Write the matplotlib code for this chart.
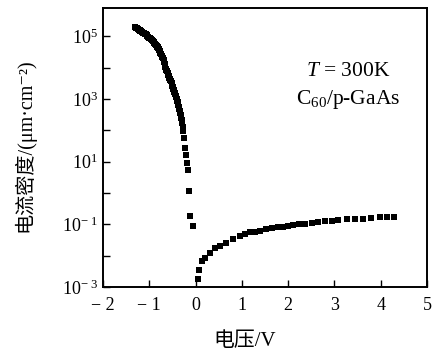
import matplotlib
matplotlib.use('Agg')
import matplotlib.pyplot as plt
import numpy as np

# reverse bias branch (V, log10 of current density)
v_rev = [-1.31, -1.29, -1.27, -1.25, -1.23, -1.21, -1.20, -1.18, -1.16, -1.14,
         -1.12, -1.10, -1.09, -1.07, -1.06, -1.04, -1.02, -1.00, -0.99, -0.97,
         -0.95, -0.93, -0.92, -0.90, -0.89, -0.87, -0.86, -0.84, -0.83, -0.82,
         -0.81, -0.79, -0.78, -0.77, -0.76, -0.74, -0.73, -0.72, -0.71, -0.69,
         -0.68, -0.67, -0.66, -0.65, -0.64, -0.63, -0.62, -0.60, -0.59, -0.58,
         -0.57, -0.56, -0.55, -0.53, -0.52, -0.51, -0.50, -0.49, -0.48, -0.47,
         -0.46, -0.45, -0.44, -0.43, -0.42, -0.41, -0.40, -0.39, -0.38, -0.37,
         -0.36, -0.35, -0.34, -0.33, -0.32, -0.31, -0.30, -0.29, -0.28, -0.27,
         -0.25, -0.23, -0.21, -0.19, -0.17, -0.14, -0.12, -0.06]
e_rev = [5.29, 5.27, 5.25, 5.23, 5.21, 5.19, 5.18, 5.16, 5.14, 5.12,
         5.10, 5.08, 5.07, 5.06, 5.05, 5.02, 4.99, 4.96, 4.94, 4.92,
         4.89, 4.86, 4.84, 4.81, 4.78, 4.75, 4.72, 4.69, 4.67, 4.65,
         4.63, 4.59, 4.55, 4.52, 4.48, 4.42, 4.38, 4.34, 4.31, 4.24,
         4.18, 4.12, 4.05, 4.01, 3.97, 3.93, 3.88, 3.83, 3.78, 3.73,
         3.68, 3.64, 3.60, 3.56, 3.52, 3.47, 3.42, 3.37, 3.32, 3.28,
         3.23, 3.19, 3.15, 3.10, 3.05, 3.00, 2.94, 2.90, 2.85, 2.80,
         2.74, 2.68, 2.62, 2.56, 2.50, 2.40, 2.32, 2.22, 2.10, 1.98,
         1.75, 1.45, 1.22, 0.96, 0.73, 0.06, -0.74, -1.06]

# forward bias branch
v_fwd = [0.045, 0.08, 0.13, 0.20, 0.31, 0.42, 0.53, 0.66, 0.81, 0.96,
         1.07, 1.17, 1.28, 1.39, 1.53, 1.66, 1.79, 1.89, 2.00, 2.11,
         2.24, 2.36, 2.51, 2.65, 2.80, 2.94, 3.08, 3.26, 3.44, 3.62,
         3.80, 3.98, 4.14, 4.28]
e_fwd = [-2.76, -2.46, -2.17, -2.06, -1.91, -1.77, -1.70, -1.59, -1.48, -1.38,
         -1.32, -1.26, -1.24, -1.21, -1.16, -1.13, -1.10, -1.08, -1.05, -1.03,
         -1.00, -0.98, -0.96, -0.93, -0.91, -0.89, -0.87, -0.84, -0.83, -0.82,
         -0.80, -0.78, -0.78, -0.76]

x_ticks = [-2, -1, 0, 1, 2, 3, 4, 5]
x_labels = ['− 2', '− 1', '0', '1', '2', '3', '4', '5']
y_labels = {-3: r'$10^{-\,\,3}$', -1: r'$10^{-\,\,1}$', 1: r'$10^{1}$',
            3: r'$10^{3}$', 5: r'$10^{5}$'}

plt.rcParams['font.family'] = ['Liberation Serif', 'Noto Sans CJK SC', 'DejaVu Sans']
plt.rcParams['mathtext.fontset'] = 'custom'
plt.rcParams['mathtext.rm'] = 'Liberation Serif'
plt.rcParams['mathtext.it'] = 'Liberation Serif:italic'

fig = plt.figure(figsize=(4.43, 3.52), dpi=100)
ax = fig.add_axes([0.2325, 0.1847, 0.7315, 0.7923])

ax.scatter(v_rev, 10.0 ** np.array(e_rev), marker='s', s=24, color='black', linewidths=0)
ax.scatter(v_fwd, 10.0 ** np.array(e_fwd), marker='s', s=15, color='black', linewidths=0)

ax.set_yscale('log')
ax.set_xlim(-2, 5)
ax.set_ylim(1e-3, 10 ** 5.9)

ax.set_xticks(x_ticks)
ax.set_xticklabels(x_labels)
ax.set_yticks([10.0 ** e for e in range(-3, 6)])
ax.set_yticklabels([y_labels.get(e, '') for e in range(-3, 6)])
ax.minorticks_off()
ax.tick_params(direction='in', length=5, width=1, labelsize=13, top=False, right=False)
ax.tick_params(axis='x', pad=7)
for s in ax.spines.values():
    s.set_linewidth(1.4)

ax.text(0.756, 0.774, r'$T$ = 300K', transform=ax.transAxes, ha='center', va='center', fontsize=15.5)
ax.text(0.756, 0.674, r'C$_{60}$/p-GaAs', transform=ax.transAxes, ha='center', va='center', fontsize=15.5)

fig.text(245 / 443, 1 - 342 / 352, '电压/V', ha='center', va='center', fontsize=15)
fig.text(24 / 443, 1 - 145 / 352, '电流密度/(μm·cm⁻²)', ha='center', va='center',
         rotation=90, fontsize=14.5)

fig.savefig('out.png', dpi=100)
